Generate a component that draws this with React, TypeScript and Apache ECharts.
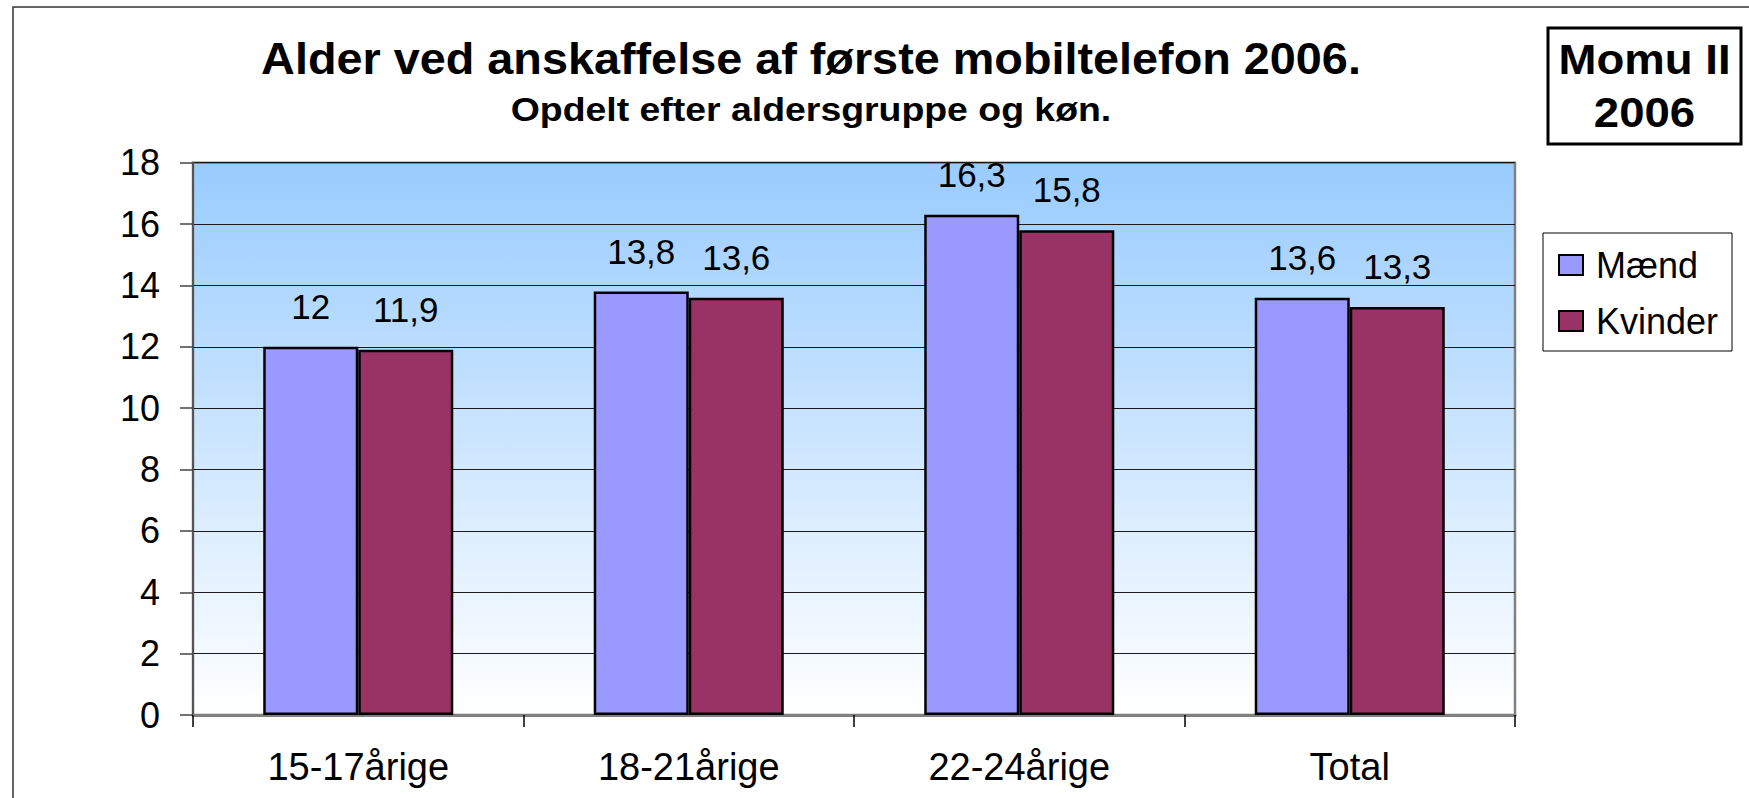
import React, { useEffect, useRef } from "react";
import * as echarts from "echarts";

const categories = ["15-17årige", "18-21årige", "22-24årige", "Total"];
const maend = [12, 13.8, 16.3, 13.6];
const kvinder = [11.9, 13.6, 15.8, 13.3];
const seriesNames = ["Mænd", "Kvinder"];
const titleText = "Alder ved anskaffelse af første mobiltelefon 2006.";
const subtitleText = "Opdelt efter aldersgruppe og køn.";
const badgeLines = ["Momu II", "2006"];
const yMin = 0;
const yMax = 18;
const yStep = 2;

const FONT = 'Arial, "Liberation Sans", sans-serif';

export default function App() {
  const ref = useRef<HTMLDivElement>(null);
  useEffect(() => {
    if (!ref.current) return;
    const chart = echarts.init(ref.current, undefined, { renderer: "svg" });
    const fmt = (p: any) => String(p.value).replace(".", ",");
    const option: any = {
      animation: false,
      backgroundColor: "#ffffff",
      textStyle: { fontFamily: FONT },
      grid: {
        left: 193,
        right: 234,
        top: 162.7,
        bottom: 83,
        show: true,
        borderColor: "#808080",
        borderWidth: 2.5,
        backgroundColor: new echarts.graphic.LinearGradient(0, 0, 0, 1, [
          { offset: 0, color: "#99CCFF" },
          { offset: 1, color: "#FFFFFF" },
        ]),
      },
      legend: {
        orient: "vertical",
        left: 1558,
        top: 247,
        padding: 0,
        itemGap: 20,
        itemWidth: 24,
        itemHeight: 20,
        icon: "rect",
        itemStyle: { borderColor: "#000", borderWidth: 2 },
        textStyle: { fontSize: 36, color: "#000", fontFamily: FONT, padding: [0, 0, 0, 8] },
        data: seriesNames,
      },
      xAxis: {
        type: "category",
        data: categories,
        axisLine: { show: true, lineStyle: { color: "#808080", width: 3 } },
        axisTick: { show: true, length: 12, lineStyle: { color: "#000", width: 1.5 } },
        axisLabel: { fontSize: 38, color: "#000", margin: 33, fontFamily: FONT },
        splitLine: { show: false },
      },
      yAxis: {
        type: "value",
        min: yMin,
        max: yMax,
        interval: yStep,
        axisLine: { show: true, lineStyle: { color: "#555", width: 2 } },
        axisTick: { show: true, length: 13, lineStyle: { color: "#444", width: 1.5 } },
        axisLabel: { fontSize: 36, color: "#000", margin: 33, fontFamily: FONT },
        splitLine: { show: true, lineStyle: { color: "#1a1a1a", width: 1 } },
      },
      series: [
        {
          name: seriesNames[0],
          type: "bar",
          data: maend,
          barGap: "0%",
          barCategoryGap: "42.5%",
          itemStyle: { color: "#9999FF", borderColor: "#000", borderWidth: 2.5 },
          label: { show: true, position: "top", distance: 23, fontSize: 35, color: "#000", formatter: fmt, fontFamily: FONT },
        },
        {
          name: seriesNames[1],
          type: "bar",
          data: kvinder,
          barGap: "0%",
          barCategoryGap: "42.5%",
          itemStyle: { color: "#993366", borderColor: "#000", borderWidth: 2.5 },
          label: { show: true, position: "top", distance: 23, fontSize: 35, color: "#000", formatter: fmt, fontFamily: FONT },
        },
      ],
      graphic: [
        {
          type: "rect",
          shape: { x: 13, y: 7, width: 2000, height: 1000 },
          style: { fill: "none", stroke: "#333", lineWidth: 1.5 },
          silent: true,
          z: -10,
        },
        {
          type: "text",
          x: 811,
          y: 58.5,
          scaleX: 1.04,
          style: { text: titleText, fontSize: 45, fontWeight: "bold", fontFamily: FONT, fill: "#000", align: "center", verticalAlign: "middle" },
        },
        {
          type: "text",
          x: 811,
          y: 109.7,
          scaleX: 1.1,
          style: { text: subtitleText, fontSize: 34, fontWeight: "bold", fontFamily: FONT, fill: "#000", align: "center", verticalAlign: "middle" },
        },
        {
          type: "rect",
          shape: { x: 1548, y: 28, width: 193, height: 116 },
          style: { fill: "#fff", stroke: "#000", lineWidth: 3 },
        },
        {
          type: "text",
          x: 1644.5,
          y: 59,
          scaleX: 1.06,
          style: { text: badgeLines[0], fontSize: 43, fontWeight: "bold", fontFamily: FONT, fill: "#000", align: "center", verticalAlign: "middle" },
        },
        {
          type: "text",
          x: 1644.5,
          y: 112,
          scaleX: 1.06,
          style: { text: badgeLines[1], fontSize: 43, fontWeight: "bold", fontFamily: FONT, fill: "#000", align: "center", verticalAlign: "middle" },
        },
        {
          type: "rect",
          shape: { x: 1543, y: 233, width: 189, height: 118 },
          style: { fill: "none", stroke: "#000", lineWidth: 1 },
          z: -1,
        },
      ],
    };
    chart.setOption(option);
    return () => chart.dispose();
  }, []);
  return (
    <div
      ref={ref}
      style={{ position: "fixed", left: 0, top: 0, width: 1749, height: 798, background: "#fff" }}
    />
  );
}
